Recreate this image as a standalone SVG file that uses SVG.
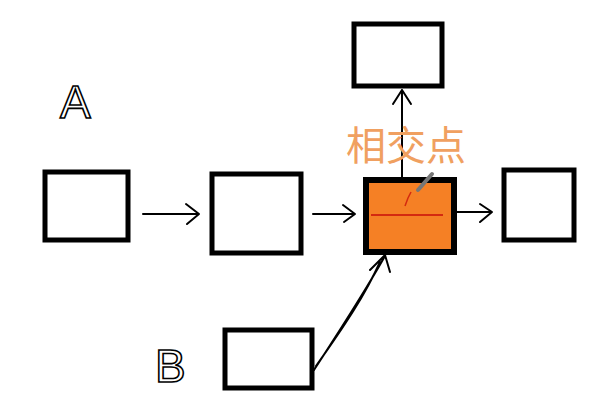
<svg xmlns="http://www.w3.org/2000/svg" width="616" height="413" viewBox="0 0 616 413">
<style>
.box{fill:#fff;stroke:#000;stroke-width:5}
.ln{fill:none;stroke:#000;stroke-width:2;stroke-linecap:round;stroke-linejoin:round}
.hw{font-family:"Liberation Sans",sans-serif;font-size:46px;fill:#fff;stroke:#000;stroke-width:1.6}
</style>
<rect width="616" height="413" fill="#fff"/>
<g id="connectors">
<path class="ln" d="M143 214 L198 214 M186 204 L199 214 L187 224"/>
<path class="ln" d="M313 214 L354 214 M343 205 L355 214 L344 222"/>
<path class="ln" d="M456 212 L491 212 M480 204 L492 212 L480 222"/>
<path class="ln" d="M402 178 L402 90 M393 104 L402 90 L411 104"/>
<path class="ln" d="M314 370 C340 330 360 300 385 256 M370 270 L385 255 L390 272 M316 366 C345 325 365 295 380 262"/>
</g>
<g id="nodeTop"><rect class="box" x="354" y="24" width="88" height="62"/></g>
<g id="node1"><rect class="box" x="45" y="172" width="83" height="68"/></g>
<g id="node2"><rect class="box" x="212" y="174" width="89" height="79"/></g>
<g id="nodeX">
<rect x="366" y="180" width="88" height="72" fill="#f58025" stroke="#000" stroke-width="6"/>
<path d="M371 215 L443 215" stroke="#d42a10" stroke-width="2" fill="none"/>
<path d="M405 206 L408 198 L411 192" stroke="#d42a10" stroke-width="1.5" fill="none"/>
<path d="M418 190 L432 174" stroke="#777" stroke-width="4" stroke-linecap="round"/>
</g>
<g id="node4"><rect class="box" x="504" y="170" width="70" height="70"/></g>
<g id="nodeB"><rect class="box" x="225" y="330" width="87" height="58"/></g>
<text x="60" y="118" class="hw">A</text>
<text x="155" y="382" class="hw">B</text>
<text x="346" y="160" font-family="Noto Sans CJK SC,sans-serif" font-size="40" fill="#f0a060">相交点</text>
</svg>
